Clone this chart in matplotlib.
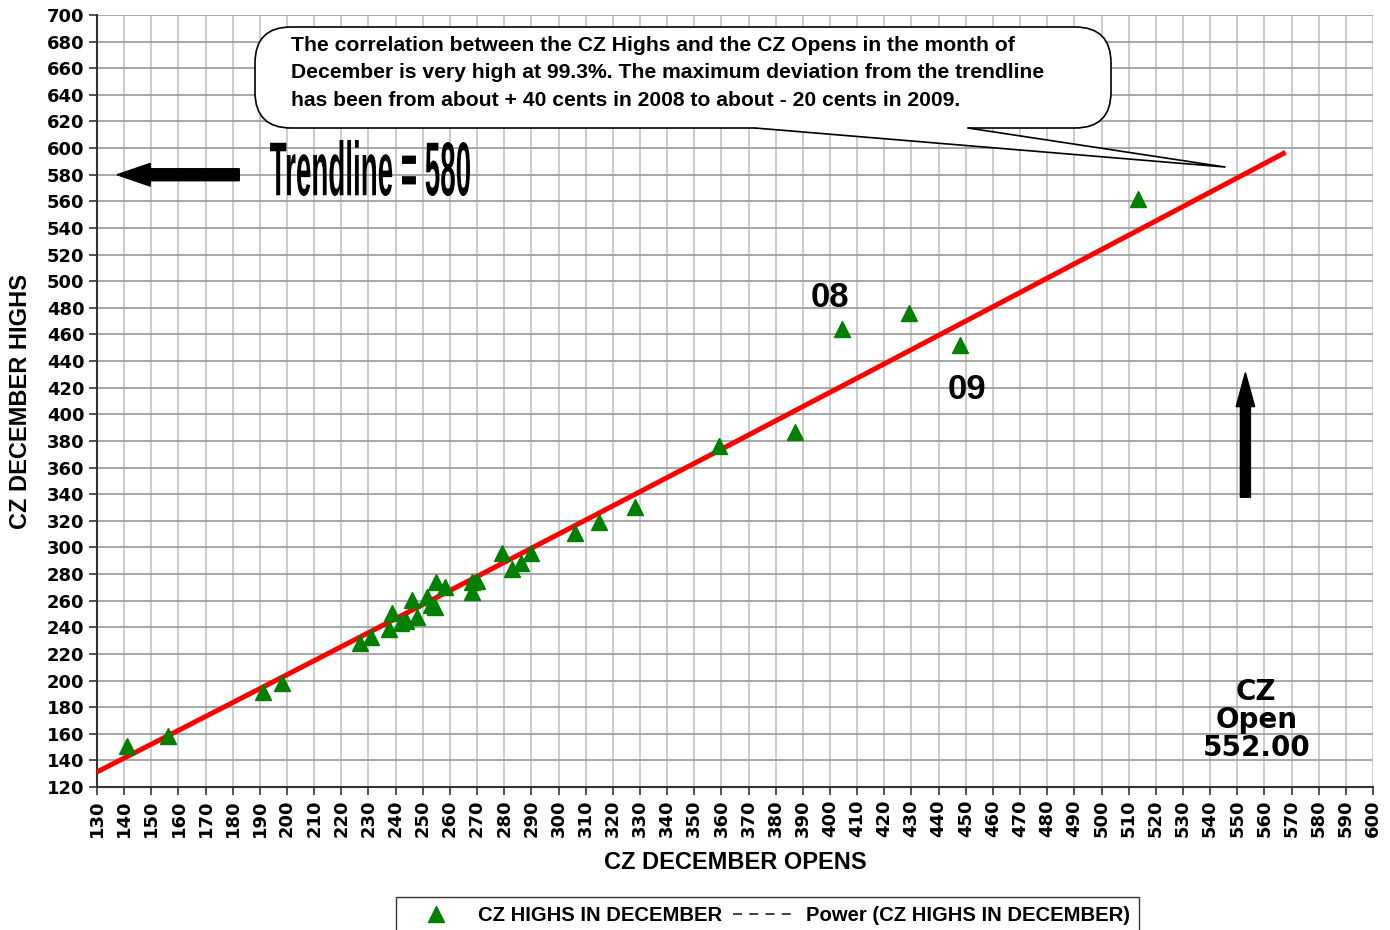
import numpy as np
import matplotlib
matplotlib.use("Agg")
import matplotlib.pyplot as plt
from matplotlib.patches import FancyBboxPatch, Polygon, PathPatch
from matplotlib.textpath import TextPath
from matplotlib.font_manager import FontProperties
from matplotlib.transforms import Affine2D
from matplotlib.lines import Line2D

# CZ December opens (x) and highs (y)
opens = [141, 156, 191, 198, 227, 231, 237.5, 238.5, 242, 244, 246, 248, 251.5, 253,
         254.5, 255, 258, 268, 268, 270, 279, 283, 286, 290, 306, 315, 328, 359,
         387, 404.5, 429, 448, 513.5]
highs = [151, 158, 191, 198, 228, 233, 238.5, 250.5, 243, 245, 260.5, 247.5, 263, 257,
         255, 274, 270, 274, 266.5, 275, 296, 283.5, 288.5, 296, 311, 319, 330, 376,
         387, 464, 476, 452, 562]

# power trendline y = a * x^b, as drawn (131 at 130, ~596 at 567)
trend_a = 0.8857
trend_b = 1.027
trend_x = [130, 567]

x_ticks = list(range(130, 601, 10))
y_ticks = list(range(120, 701, 20))

callout = ("The correlation between the CZ Highs and the CZ Opens in the month of\n"
           "December is very high at 99.3%. The maximum deviation from the trendline\n"
           "has been from about + 40 cents in 2008 to about - 20 cents in 2009.")

narrow = ['Liberation Sans', 'DejaVu Sans']
wide = ['DejaVu Sans']

fig = plt.figure(figsize=(13.9, 9.3), dpi=100)
ax = fig.add_axes([97 / 1390, 1 - 787 / 930, 1276 / 1390, 772 / 930])
px = fig.dpi_scale_trans  # inches from bottom-left


def pin(x, y):
    # pixel (from top-left) to inches
    return x / 100, (930 - y) / 100


xt = np.linspace(trend_x[0], trend_x[1], 200)
ax.plot(xt, trend_a * xt ** trend_b, color='red', lw=3.6, zorder=3)
ax.plot(opens, highs, '^', color='#008000', ms=11, mec='#008000', zorder=4, clip_on=False)

ax.set_xlim(130, 600)
ax.set_ylim(120, 700)
ax.set_xticks(x_ticks)
ax.set_yticks(y_ticks)
ax.set_xticklabels([str(v) for v in x_ticks], rotation=90, fontsize=13, fontweight='bold', family=wide)
ax.set_yticklabels([str(v) for v in y_ticks], fontsize=13, fontweight='bold', family=wide)
ax.tick_params(length=6, width=1.2, color='#333333', pad=3)
ax.xaxis.grid(True, color='#c8c8c8', lw=1.3)
ax.yaxis.grid(True, color='#a0a0a0', lw=1.3)
ax.set_axisbelow(True)
for s in ['top', 'right']:
    ax.spines[s].set_visible(False)
for s in ['left', 'bottom']:
    ax.spines[s].set_color('#333333')
    ax.spines[s].set_linewidth(1.5)

ax.set_xlabel('CZ DECEMBER OPENS', fontsize=17, fontweight='bold', family=narrow, labelpad=10)
ax.set_ylabel('CZ DECEMBER HIGHS', fontsize=17, fontweight='bold', family=narrow, labelpad=11)

# arrows
ax.arrow(182.4, 580, -45, 0, width=9, head_width=17, head_length=12.2,
         length_includes_head=True, color='black', zorder=5)
ax.arrow(553, 337.7, 0, 93.6, width=3.7, head_width=6.8, head_length=25.5,
         length_includes_head=True, color='black', zorder=5)

ax.text(557, 170, 'CZ\nOpen\n552.00', ha='center', va='center', fontsize=20,
        fontweight='bold', family=wide, linespacing=1.0)
ax.text(400, 488, '08', ha='center', va='center', fontsize=25, fontweight='bold', family=narrow)
ax.text(450.3, 419, '09', ha='center', va='center', fontsize=25, fontweight='bold', family=narrow)

# speech bubble
x0, y0 = pin(255, 128)
x1, y1 = pin(1111, 27)
bub = FancyBboxPatch((x0, y0), x1 - x0, y1 - y0, boxstyle='round,pad=0,rounding_size=0.36',
                     transform=px, facecolor='white', edgecolor='black', lw=1.2, zorder=6)
fig.patches.append(bub)
ta, tb, tc = pin(755, 128), pin(1225, 167), pin(968, 128)
fig.patches.append(Polygon([(ta[0], ta[1] + 0.02), ta, tb, tc, (tc[0], tc[1] + 0.02)],
                           closed=True, transform=px, facecolor='white', edgecolor='none', zorder=7))
fig.lines.append(Line2D([ta[0], tb[0], tc[0]], [ta[1], tb[1], tc[1]], transform=px,
                        color='black', lw=1.2, zorder=8))
tx, ty = pin(291, 36)
fig.text(tx / 13.9, ty / 9.3, callout, ha='left', va='top', fontsize=15.2, fontweight='bold',
         family=narrow, linespacing=1.55, zorder=9)

# "Trendline = 580" stretched label
fp = FontProperties(family=narrow, weight='bold')
tp = TextPath((0, 0), 'Trendline = 580', size=10, prop=fp)
ext = tp.get_extents()
lx, ly = pin(270, 196)
sx = 2.0 / ext.width
sy = 0.56 / ext.height
tr = Affine2D().translate(-ext.x0, -ext.y0).scale(sx, sy).translate(lx, ly) + px
fig.patches.append(PathPatch(tp, transform=tr, facecolor='black', edgecolor='none', zorder=6))

# legend
h1 = Line2D([], [], marker='^', ls='none', color='#008000', ms=11)
h2 = Line2D([], [], ls=(0, (5, 4)), color='#333333', lw=1.3)
leg = fig.legend([h1, h2], ['CZ HIGHS IN DECEMBER', 'Power (CZ HIGHS IN DECEMBER)'],
                 loc='upper center', bbox_to_anchor=(767.5 / 1390, 1 - 897 / 930), ncol=2,
                 frameon=True, fancybox=False, edgecolor='black', handlelength=3.0,
                 columnspacing=0.5, handletextpad=0.6, borderpad=0.45, borderaxespad=0,
                 prop=FontProperties(family=narrow, weight='bold', size=14.6))
leg.get_frame().set_linewidth(1.0)

fig.savefig('out.png', dpi=100)
